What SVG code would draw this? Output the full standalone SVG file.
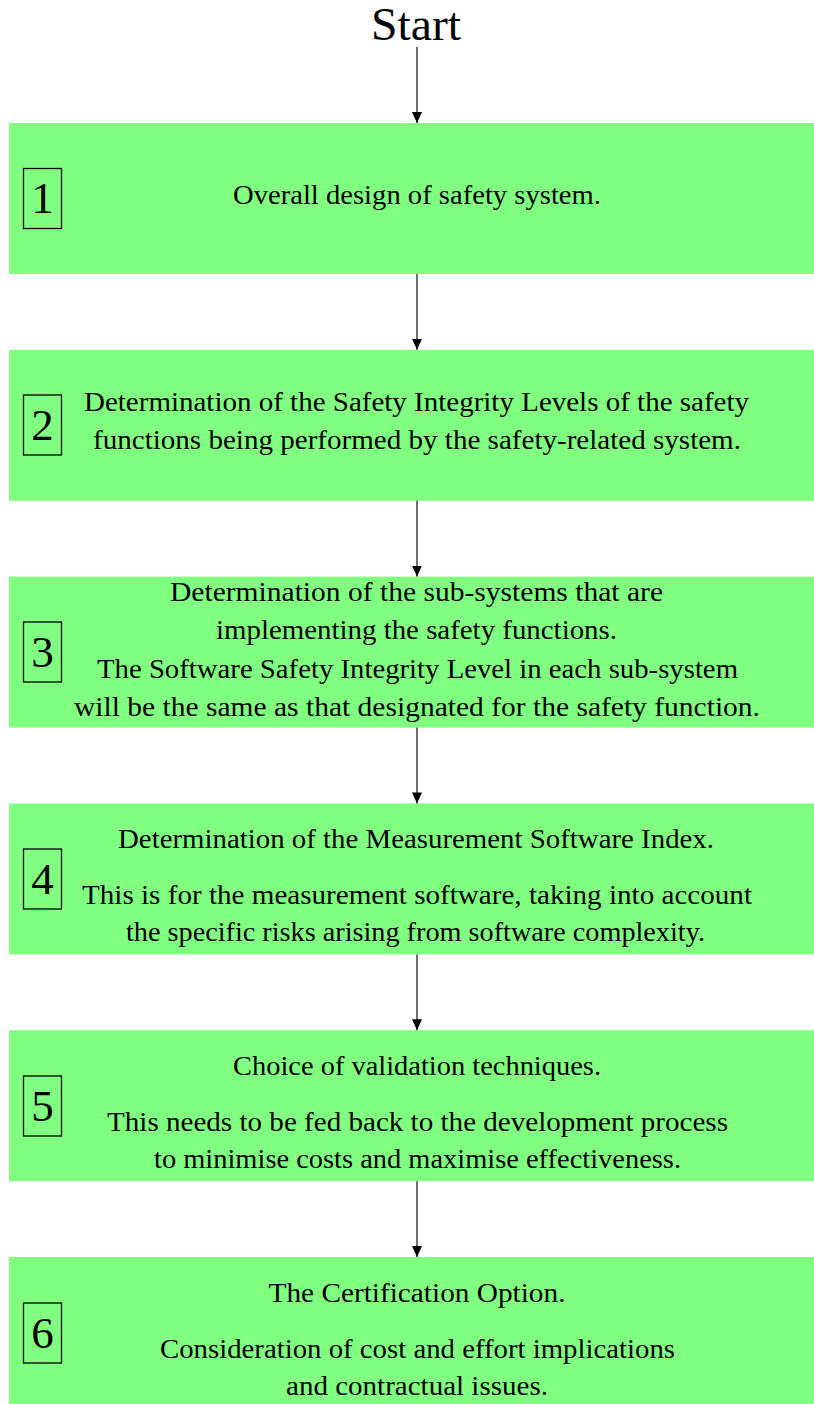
<svg xmlns="http://www.w3.org/2000/svg" width="814" height="1404" viewBox="0 0 814 1404">
  <style>
    .step { fill: #80ff80; }
    .num-box { fill: none; stroke: #000; stroke-width: 1.3; }
    .num { font-family: "Liberation Serif", "DejaVu Serif", "Times New Roman", serif; font-size: 45px; text-anchor: middle; fill: #000; }
    .txt { font-family: "Liberation Serif", "DejaVu Serif", "Times New Roman", serif; font-size: 27px; text-anchor: middle; fill: #000; }
    .title { font-family: "Liberation Serif", "DejaVu Serif", "Times New Roman", serif; font-size: 46px; text-anchor: middle; fill: #000; }
    .flow { stroke: #222; stroke-width: 1.3; fill: none; marker-end: url(#arrow); }
  </style>
  <defs>
    <!-- arrowhead drawn along +x so orient="auto" turns it to follow the line -->
    <marker id="arrow" viewBox="0 0 11 10" refX="11" refY="5" markerWidth="11" markerHeight="10" markerUnits="userSpaceOnUse" orient="auto">
      <path d="M0,0 L11,5 L0,10 Z" fill="#000"/>
    </marker>
  </defs>

  <rect width="814" height="1404" fill="#fff"/>

  <g id="start">
    <text class="title" x="416" y="40" textLength="90" lengthAdjust="spacingAndGlyphs">Start</text>
  </g>

  <g id="step1">
    <rect class="step" x="9" y="123" width="805" height="151"/>
    <rect class="num-box" x="23.5" y="168.5" width="38" height="60"/>
    <text class="num" x="42.5" y="213">1</text>
    <text class="txt" x="417" y="204" textLength="368" lengthAdjust="spacingAndGlyphs">Overall design of safety system.</text>
  </g>

  <g id="step2">
    <rect class="step" x="9" y="349.8" width="805" height="151"/>
    <rect class="num-box" x="23.5" y="395" width="38" height="60"/>
    <text class="num" x="42.5" y="440">2</text>
    <text class="txt" x="416.5" y="411" textLength="665" lengthAdjust="spacingAndGlyphs">Determination of the Safety Integrity Levels of the safety</text>
    <text class="txt" x="417" y="449" textLength="648" lengthAdjust="spacingAndGlyphs">functions being performed by the safety-related system.</text>
  </g>

  <g id="step3">
    <rect class="step" x="9" y="576.6" width="805" height="151"/>
    <rect class="num-box" x="23.5" y="622" width="38" height="60"/>
    <text class="num" x="42.5" y="667">3</text>
    <text class="txt" x="416.5" y="600.5" textLength="493" lengthAdjust="spacingAndGlyphs">Determination of the sub-systems that are</text>
    <text class="txt" x="416.5" y="639" textLength="401" lengthAdjust="spacingAndGlyphs">implementing the safety functions.</text>
    <text class="txt" x="417.5" y="677.5" textLength="641" lengthAdjust="spacingAndGlyphs">The Software Safety Integrity Level in each sub-system</text>
    <text class="txt" x="417" y="716" textLength="686" lengthAdjust="spacingAndGlyphs">will be the same as that designated for the safety function.</text>
  </g>

  <g id="step4">
    <rect class="step" x="9" y="803.4" width="805" height="151"/>
    <rect class="num-box" x="23.5" y="849" width="38" height="60"/>
    <text class="num" x="42.5" y="894">4</text>
    <text class="txt" x="416" y="848" textLength="596" lengthAdjust="spacingAndGlyphs">Determination of the Measurement Software Index.</text>
    <text class="txt" x="417" y="904" textLength="670" lengthAdjust="spacingAndGlyphs">This is for the measurement software, taking into account</text>
    <text class="txt" x="415.5" y="941" textLength="579" lengthAdjust="spacingAndGlyphs">the specific risks arising from software complexity.</text>
  </g>

  <g id="step5">
    <rect class="step" x="9" y="1030.2" width="805" height="151"/>
    <rect class="num-box" x="23.5" y="1076" width="38" height="60"/>
    <text class="num" x="42.5" y="1121">5</text>
    <text class="txt" x="417" y="1075" textLength="368" lengthAdjust="spacingAndGlyphs">Choice of validation techniques.</text>
    <text class="txt" x="417.5" y="1131" textLength="621" lengthAdjust="spacingAndGlyphs">This needs to be fed back to the development process</text>
    <text class="txt" x="417.5" y="1168" textLength="527" lengthAdjust="spacingAndGlyphs">to minimise costs and maximise effectiveness.</text>
  </g>

  <g id="step6">
    <rect class="step" x="9" y="1257" width="805" height="151"/>
    <rect class="num-box" x="23.5" y="1303" width="38" height="60"/>
    <text class="num" x="42.5" y="1348">6</text>
    <text class="txt" x="417" y="1302" textLength="297" lengthAdjust="spacingAndGlyphs">The Certification Option.</text>
    <text class="txt" x="417.5" y="1358" textLength="515" lengthAdjust="spacingAndGlyphs">Consideration of cost and effort implications</text>
    <text class="txt" x="417" y="1395" textLength="262" lengthAdjust="spacingAndGlyphs">and contractual issues.</text>
  </g>

  <g id="connectors">
    <line class="flow" x1="417" y1="47" x2="417" y2="123"/>
    <line class="flow" x1="417" y1="274" x2="417" y2="349.8"/>
    <line class="flow" x1="417" y1="500.8" x2="417" y2="576.6"/>
    <line class="flow" x1="417" y1="727.6" x2="417" y2="803.4"/>
    <line class="flow" x1="417" y1="954.4" x2="417" y2="1030.2"/>
    <line class="flow" x1="417" y1="1181.2" x2="417" y2="1257"/>
  </g>
</svg>
